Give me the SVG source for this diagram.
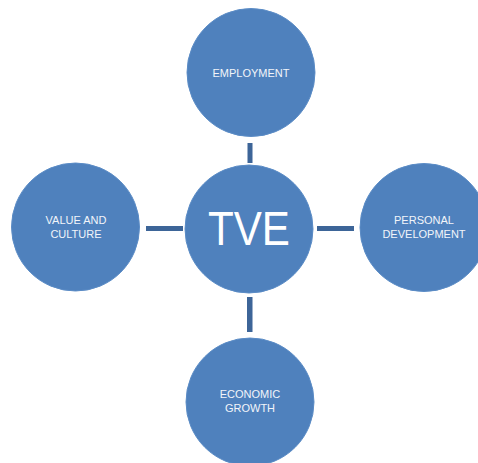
<svg xmlns="http://www.w3.org/2000/svg" width="478" height="463" viewBox="0 0 478 463">
  <style>
    .node circle { fill: #4f81bd; stroke: #5b8cc6; stroke-width: 1; }
    .label { font-family: "Liberation Sans", Arial, sans-serif; font-size: 11px; fill: #f2f5fa; text-anchor: middle; }
    .hub { font-family: "Liberation Sans", Arial, sans-serif; font-size: 48px; fill: #ffffff; text-anchor: middle; }
    .link { fill: #3d6598; }
  </style>
  <rect width="478" height="463" fill="#ffffff"/>

  <!-- connector bars between hub and satellites -->
  <g id="connectors">
    <rect class="link" x="247.5" y="143" width="5" height="20"/>
    <rect class="link" x="146" y="226" width="37" height="5"/>
    <rect class="link" x="317" y="226" width="37" height="5"/>
    <rect class="link" x="247" y="297" width="5.5" height="35"/>
  </g>

  <g id="employment" class="node">
    <circle cx="251" cy="72.5" r="64"/>
    <text class="label" x="251" y="76.7">EMPLOYMENT</text>
  </g>

  <g id="tve" class="node">
    <circle cx="249" cy="229" r="64"/>
    <text class="hub" x="249" y="245" textLength="82" lengthAdjust="spacingAndGlyphs">TVE</text>
  </g>

  <g id="value-and-culture" class="node">
    <circle cx="75.5" cy="227" r="64"/>
    <text class="label" x="76" y="224">VALUE AND</text>
    <text class="label" x="76" y="238">CULTURE</text>
  </g>

  <g id="personal-development" class="node">
    <circle cx="424" cy="227.5" r="64"/>
    <text class="label" x="424" y="224">PERSONAL</text>
    <text class="label" x="424" y="238">DEVELOPMENT</text>
  </g>

  <g id="economic-growth" class="node">
    <circle cx="250" cy="402" r="64"/>
    <text class="label" x="250" y="398">ECONOMIC</text>
    <text class="label" x="250" y="412.3">GROWTH</text>
  </g>
</svg>
